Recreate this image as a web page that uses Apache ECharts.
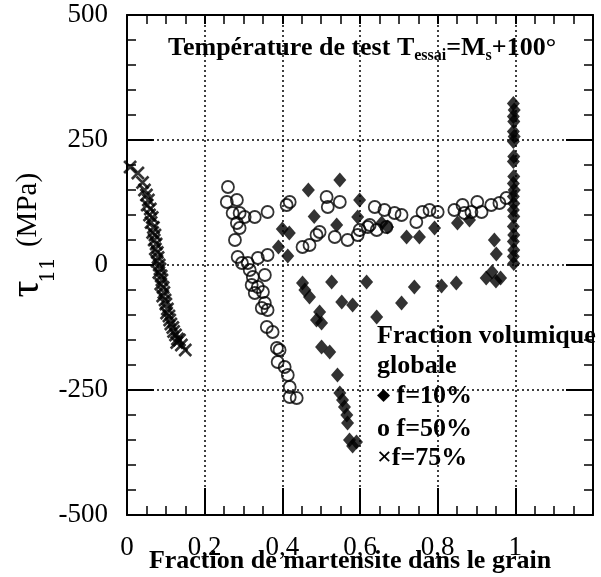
<!DOCTYPE html>
<html>
<head>
<meta charset="utf-8">
<script src="https://cdn.jsdelivr.net/npm/echarts@6/dist/echarts.min.js"></script>
<style>
html,body{margin:0;padding:0;background:#fff;}
#chart{width:601px;height:577px;}
</style>
</head>
<body>
<div id="chart"></div>
<script>
// ---- data ----
var xTickValues = [0, 0.2, 0.4, 0.6, 0.8, 1.0, 1.2];
var xTickLabels = ['0', '0,2', '0,4', '0,6', '0,8', '1', ''];
var yTickValues = [-500, -250, 0, 250, 500];
var yTickLabels = ['-500', '-250', '0', '250', '500'];

var seriesNames = ['f=10%', 'f=50%', 'f=75%'];

// f = 10 % (filled diamonds)
var f10Points = [
  [0.995, 323], [0.997, 310], [0.995, 297], [0.996, 287], [0.995, 267], [0.997, 257],
  [0.995, 247], [0.996, 217], [0.995, 207], [0.996, 177], [0.995, 163], [0.997, 150],
  [0.995, 137], [0.996, 123], [0.995, 110], [0.996, 97], [0.995, 77], [0.996, 60],
  [0.995, 47], [0.996, 30], [0.995, 17], [0.996, 3],
  [0.946, 50], [0.951, 22], [0.940, -14], [0.925, -26], [0.962, -26], [0.950, -32],
  [0.848, -36], [0.810, -42], [0.740, -44], [0.707, -76], [0.617, -34], [0.643, -104],
  [0.581, -80], [0.553, -74], [0.527, -34], [0.452, -36], [0.458, -50], [0.470, -64],
  [0.496, -94], [0.488, -110], [0.501, -116], [0.501, -164], [0.522, -174], [0.542, -220],
  [0.548, -256], [0.555, -270], [0.560, -284], [0.566, -300], [0.568, -316], [0.573, -350],
  [0.591, -354], [0.581, -362],
  [0.400, 72], [0.418, 64], [0.390, 36], [0.414, 18], [0.467, 150], [0.548, 170],
  [0.599, 130], [0.482, 97], [0.540, 80], [0.594, 96], [0.656, 84], [0.671, 76],
  [0.720, 56], [0.753, 56], [0.792, 74], [0.851, 84], [0.882, 90]
];

// f = 50 % (open circles)
var f50Points = [
  [0.260, 156], [0.257, 126], [0.283, 130], [0.272, 104], [0.290, 104], [0.303, 96],
  [0.329, 96], [0.362, 106], [0.283, 84], [0.290, 74], [0.278, 50], [0.285, 16],
  [0.296, 4], [0.311, 4], [0.337, 14], [0.362, 20], [0.316, -10], [0.324, -24],
  [0.355, -20], [0.321, -40], [0.337, -44], [0.350, -54], [0.329, -56], [0.355, -76],
  [0.347, -86], [0.362, -90], [0.360, -124], [0.375, -134], [0.386, -166], [0.393, -170],
  [0.388, -194], [0.406, -204], [0.414, -220], [0.419, -244], [0.419, -264], [0.437, -266],
  [0.419, 126], [0.411, 120],
  [0.452, 36], [0.470, 40], [0.488, 60], [0.496, 66], [0.514, 136], [0.548, 126],
  [0.517, 116], [0.535, 56], [0.568, 50], [0.594, 60], [0.599, 70], [0.620, 76],
  [0.625, 80], [0.638, 116], [0.663, 110], [0.643, 70], [0.668, 76], [0.689, 104],
  [0.707, 100], [0.745, 86], [0.761, 106], [0.779, 110], [0.800, 106], [0.843, 110],
  [0.864, 120], [0.869, 104], [0.887, 106], [0.902, 126], [0.913, 106], [0.938, 120],
  [0.959, 124], [0.977, 134]
];

// f = 75 % (crosses)
var f75Points = [
  [0.008, 196], [0.028, 184], [0.040, 165], [0.045, 150], [0.050, 140], [0.055, 130],
  [0.052, 120], [0.060, 112], [0.058, 100], [0.065, 95], [0.062, 85], [0.068, 75],
  [0.066, 65], [0.072, 60], [0.070, 50], [0.075, 42], [0.073, 32], [0.078, 25],
  [0.080, 15], [0.077, 8], [0.083, 0], [0.085, -8], [0.082, -15], [0.088, -22],
  [0.090, -30], [0.087, -38], [0.093, -45], [0.095, -55], [0.092, -62], [0.098, -70],
  [0.100, -78], [0.104, -88], [0.102, -96], [0.108, -102], [0.110, -110], [0.113, -118],
  [0.118, -125], [0.120, -133], [0.125, -140], [0.130, -148], [0.128, -155], [0.135, -150],
  [0.140, -160], [0.150, -170]
];

var titleText = '{a|Température de test T}{s|essai}{a|=M}{s|s}{a|+100°}';
var xAxisTitle = 'Fraction de martensite dans le grain';
var legendTitle = ['Fraction volumique', 'globale'];

// ---- chart ----
var chart = echarts.init(document.getElementById('chart'), null, {renderer: 'canvas'});
var serif = '"Liberation Serif", "Times New Roman", serif';

function xFmt(v) {
  for (var i = 0; i < xTickValues.length; i++) {
    if (Math.abs(v - xTickValues[i]) < 1e-6) return xTickLabels[i];
  }
  return '';
}
function yFmt(v) {
  for (var i = 0; i < yTickValues.length; i++) {
    if (Math.abs(v - yTickValues[i]) < 1e-6) return yTickLabels[i];
  }
  return '';
}

var axisLineStyle = {color: '#000', width: 2};
function xAxisCfg(pos, major) {
  return {
    type: 'value', min: 0, max: 1.2, interval: 0.2, position: pos,
    axisLine: {show: true, onZero: false, lineStyle: axisLineStyle},
    axisTick: {show: true, inside: true, length: major, lineStyle: {color: '#000', width: 2}},
    minorTick: {show: true, splitNumber: 4, length: 9, lineStyle: {color: '#000', width: 1.5}},
    splitLine: {show: pos === 'bottom', lineStyle: {color: '#000', type: [2, 3], width: 1.5}},
    minorSplitLine: {show: false},
    axisLabel: {show: pos === 'bottom', formatter: xFmt, fontFamily: serif, fontSize: 27,
      color: '#000', margin: 19}
  };
}
function yAxisCfg(pos, major) {
  return {
    type: 'value', min: -500, max: 500, interval: 250, position: pos,
    axisLine: {show: true, onZero: false, lineStyle: axisLineStyle},
    axisTick: {show: true, inside: true, length: major, lineStyle: {color: '#000', width: 2}},
    minorTick: {show: true, splitNumber: 5, length: 9, lineStyle: {color: '#000', width: 1.5}},
    splitLine: {show: pos === 'left', lineStyle: {color: '#000', type: [2, 3], width: 1.5}},
    minorSplitLine: {show: false},
    axisLabel: {show: pos === 'left', formatter: yFmt, fontFamily: serif, fontSize: 27,
      color: '#000', margin: 19}
  };
}

var option = {
  backgroundColor: '#fff',
  animation: false,
  grid: {left: 127, right: 8, top: 15, bottom: 62, show: false},
  xAxis: [xAxisCfg('bottom', 27), xAxisCfg('top', 9)],
  yAxis: [yAxisCfg('left', 27), yAxisCfg('right', 27)],
  series: [
    {
      name: seriesNames[0], type: 'scatter', xAxisIndex: 0, yAxisIndex: 0,
      symbol: 'diamond', symbolSize: [13, 15],
      itemStyle: {color: '#000'},
      data: f10Points
    },
    {
      name: seriesNames[1], type: 'scatter', xAxisIndex: 0, yAxisIndex: 0,
      symbol: 'circle', symbolSize: 12,
      itemStyle: {color: 'rgba(0,0,0,0)', borderColor: '#000', borderWidth: 1.8},
      data: f50Points
    },
    {
      name: seriesNames[2], type: 'scatter', xAxisIndex: 0, yAxisIndex: 0,
      symbol: 'path://M0,0L10,10M0,10L10,0', symbolSize: 12,
      itemStyle: {color: 'rgba(0,0,0,0)', borderColor: '#000', borderWidth: 2.6},
      data: f75Points
    }
  ],
  graphic: [
    {
      type: 'text', x: 168, y: 48,
      style: {
        text: titleText, textVerticalAlign: 'middle', fill: '#000',
        rich: {
          a: {fontFamily: serif, fontWeight: 'bold', fontSize: 26, fill: '#000'},
          s: {fontFamily: serif, fontWeight: 'bold', fontSize: 16, fill: '#000', padding: [16, 0, 0, 0]}
        }
      }
    },
    {
      type: 'text', x: 350, y: 561,
      style: {text: xAxisTitle, font: 'bold 26px ' + serif, fill: '#000',
        textAlign: 'center', textVerticalAlign: 'middle'}
    },
    {
      type: 'text', x: 27, y: 289, rotation: Math.PI / 2,
      style: {text: 'τ', font: '42px ' + serif, fill: '#000',
        textAlign: 'center', textVerticalAlign: 'middle'}
    },
    {
      type: 'text', x: 49, y: 270, rotation: Math.PI / 2,
      style: {text: '11', font: '20px "DejaVu Serif", serif', fill: '#000',
        textAlign: 'center', textVerticalAlign: 'middle'}
    },
    {
      type: 'text', x: 28, y: 210, rotation: Math.PI / 2,
      style: {text: '(MPa)', font: '29px ' + serif, fill: '#000',
        textAlign: 'center', textVerticalAlign: 'middle'}
    },
    {
      type: 'text', x: 377, y: 336,
      style: {text: legendTitle[0], font: 'bold 26px ' + serif, fill: '#000', textVerticalAlign: 'middle'}
    },
    {
      type: 'text', x: 377, y: 366,
      style: {text: legendTitle[1], font: 'bold 26px ' + serif, fill: '#000', textVerticalAlign: 'middle'}
    },
    {
      type: 'text', x: 377, y: 396,
      style: {text: '{d|◆} ' + seriesNames[0], fill: '#000', textVerticalAlign: 'middle',
        font: 'bold 26px ' + serif,
        rich: {d: {fontSize: 17, fontFamily: '"DejaVu Sans", sans-serif', fill: '#000'}}}
    },
    {
      type: 'text', x: 377, y: 429,
      style: {text: 'o ' + seriesNames[1], font: 'bold 26px ' + serif, fill: '#000', textVerticalAlign: 'middle'}
    },
    {
      type: 'text', x: 377, y: 458,
      style: {text: '×' + seriesNames[2], font: 'bold 26px ' + serif, fill: '#000', textVerticalAlign: 'middle'}
    }
  ]
};
chart.setOption(option);
</script>
</body>
</html>
